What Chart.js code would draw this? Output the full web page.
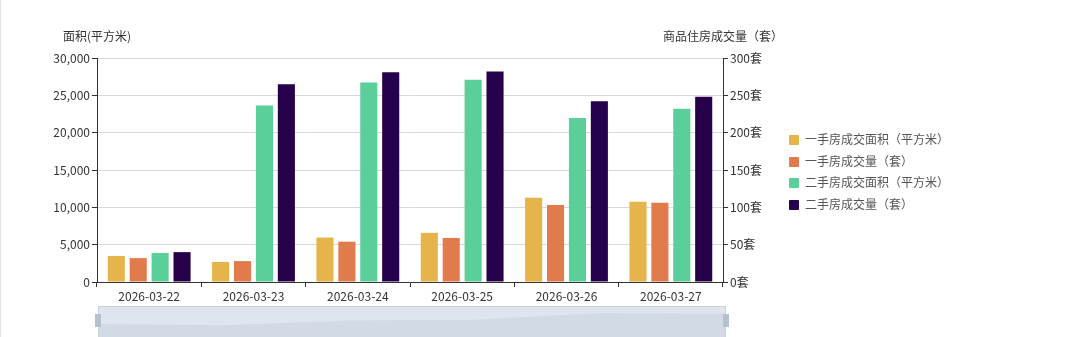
<!DOCTYPE html>
<html>
<head>
<meta charset="utf-8">
<script src="https://cdn.jsdelivr.net/npm/chart.js@4.4.1/dist/chart.umd.min.js"></script>
<style>
  html, body { margin: 0; padding: 0; background: #fff; }
  body { width: 1080px; height: 337px; overflow: hidden; position: relative; font-family: "Noto Sans CJK SC", "Noto Sans", sans-serif; }
  .borde { position: absolute; left: 0; top: 0; width: 1px; height: 337px; background: #e2e2e2; }
  .caja { position: absolute; left: 0; top: 0; width: 1080px; height: 337px; }
  .leyenda { position: absolute; left: 789px; top: 128px; font-size: 12px; color: #555; }
  .leyenda div { height: 21.6px; line-height: 21.6px; white-space: nowrap; }
  .leyenda span { display: inline-block; width: 10px; height: 10px; margin-right: 6px; vertical-align: -1px; border-radius: 1px; }
</style>
</head>
<body>
<div class="borde"></div>
<div class="caja"><canvas id="myChart" width="1080" height="337"></canvas></div>
<div class="leyenda" id="leyenda"></div>
<script>
const fechas = ['2026-03-22', '2026-03-23', '2026-03-24', '2026-03-25', '2026-03-26', '2026-03-27']

const areaNueva = [3490, 2690, 5950, 6580, 11280, 10740]
const ventasNueva = [32, 28, 54, 59, 103, 106]
const areaUsada = [3890, 23630, 26720, 27080, 21980, 23190]
const ventasUsada = [40, 265, 281, 282, 242, 248]

const nombres = ['一手房成交面积（平方米）', '一手房成交量（套）', '二手房成交面积（平方米）', '二手房成交量（套）']
const colores = ['#e5b44a', '#e27b4b', '#5bcf9a', '#27004b']

const tituloIzq = '面积(平方米)'
const tituloDer = '商品住房成交量（套）'

// leyenda en html
const leyenda = document.getElementById('leyenda')
for (let i = 0; i < nombres.length; i++) {
  leyenda.innerHTML += `<div><span style="background:${colores[i]}"></span>${nombres[i]}</div>`
}

// titulos de ejes y barra de zoom de abajo
const extras = {
  id: 'extras',
  afterDraw(chart) {
    const ctx = chart.ctx
    const y = chart.scales.y
    const y1 = chart.scales.y1
    const area = chart.chartArea
    ctx.save()
    ctx.font = '12px "Noto Sans CJK SC"'
    ctx.fillStyle = '#333'
    ctx.textAlign = 'center'
    ctx.textBaseline = 'middle'
    ctx.fillText(tituloIzq, y.right, 36)
    ctx.fillText(tituloDer, y1.left, 36)

    // slider
    const x0 = area.left + 1
    const x1 = area.right + 3
    const top = 306
    const bottom = 337
    ctx.fillStyle = '#dfe5ee'
    ctx.fillRect(x0, top, x1 - x0, bottom - top)
    let maxv = Math.max(...areaNueva)
    ctx.beginPath()
    ctx.moveTo(x0, bottom)
    for (let i = 0; i < areaNueva.length; i++) {
      const px = x0 + (x1 - x0) * i / (areaNueva.length - 1)
      const py = bottom - 8 - (areaNueva[i] / maxv) * 16
      ctx.lineTo(px, py)
    }
    ctx.lineTo(x1, bottom)
    ctx.closePath()
    ctx.fillStyle = '#d2dae5'
    ctx.fill()
    ctx.strokeStyle = '#c8d0dc'
    ctx.lineWidth = 1
    ctx.strokeRect(x0 + 0.5, top + 0.5, x1 - x0 - 1, bottom - top)
    ctx.fillStyle = '#b6c1ce'
    for (const hx of [x0, x1]) {
      ctx.fillRect(hx - 3, top + 8, 6, 13)
    }
    ctx.restore()
  }
}

const $grafica = document.getElementById('myChart')
let myChart = new Chart($grafica, {
  type: 'bar',
  data: {
    labels: fechas,
    datasets: [
      { label: nombres[0], data: areaNueva, backgroundColor: colores[0], yAxisID: 'y' },
      { label: nombres[1], data: ventasNueva, backgroundColor: colores[1], yAxisID: 'y1' },
      { label: nombres[2], data: areaUsada, backgroundColor: colores[2], yAxisID: 'y' },
      { label: nombres[3], data: ventasUsada, backgroundColor: colores[3], yAxisID: 'y1' }
    ]
  },
  options: {
    responsive: false,
    animation: false,
    datasets: { bar: { categoryPercentage: 0.84, barPercentage: 0.78 } },
    layout: { padding: { top: 58, left: 0, right: 297, bottom: 35 } },
    plugins: { legend: { display: false }, tooltip: { enabled: false } },
    scales: {
      x: {
        afterFit: (s) => { s.height = 20 },
        grid: { drawOnChartArea: false, drawTicks: true, tickLength: 5, tickColor: '#333' },
        border: { color: '#333' },
        ticks: { color: '#333', font: { size: 12, family: '"Noto Sans CJK SC"' }, padding: 2 }
      },
      y: {
        position: 'left',
        min: 0, max: 30000,
        afterFit: (s) => { s.width = 97 },
        grid: { color: '#d9d9d9', tickColor: '#333', tickLength: 5 },
        border: { color: '#333' },
        ticks: { stepSize: 5000, color: '#333', font: { size: 12, family: '"Noto Sans CJK SC"' }, padding: 2 }
      },
      y1: {
        position: 'right',
        min: 0, max: 300,
        afterFit: (s) => { s.width = 60 },
        grid: { drawOnChartArea: false, tickColor: '#333', tickLength: 5 },
        border: { color: '#333' },
        ticks: { stepSize: 50, color: '#333', font: { size: 12, family: '"Noto Sans CJK SC"' }, padding: 2,
          callback: (v) => v + '套' }
      }
    }
  },
  plugins: [extras]
})
</script>
</body>
</html>
